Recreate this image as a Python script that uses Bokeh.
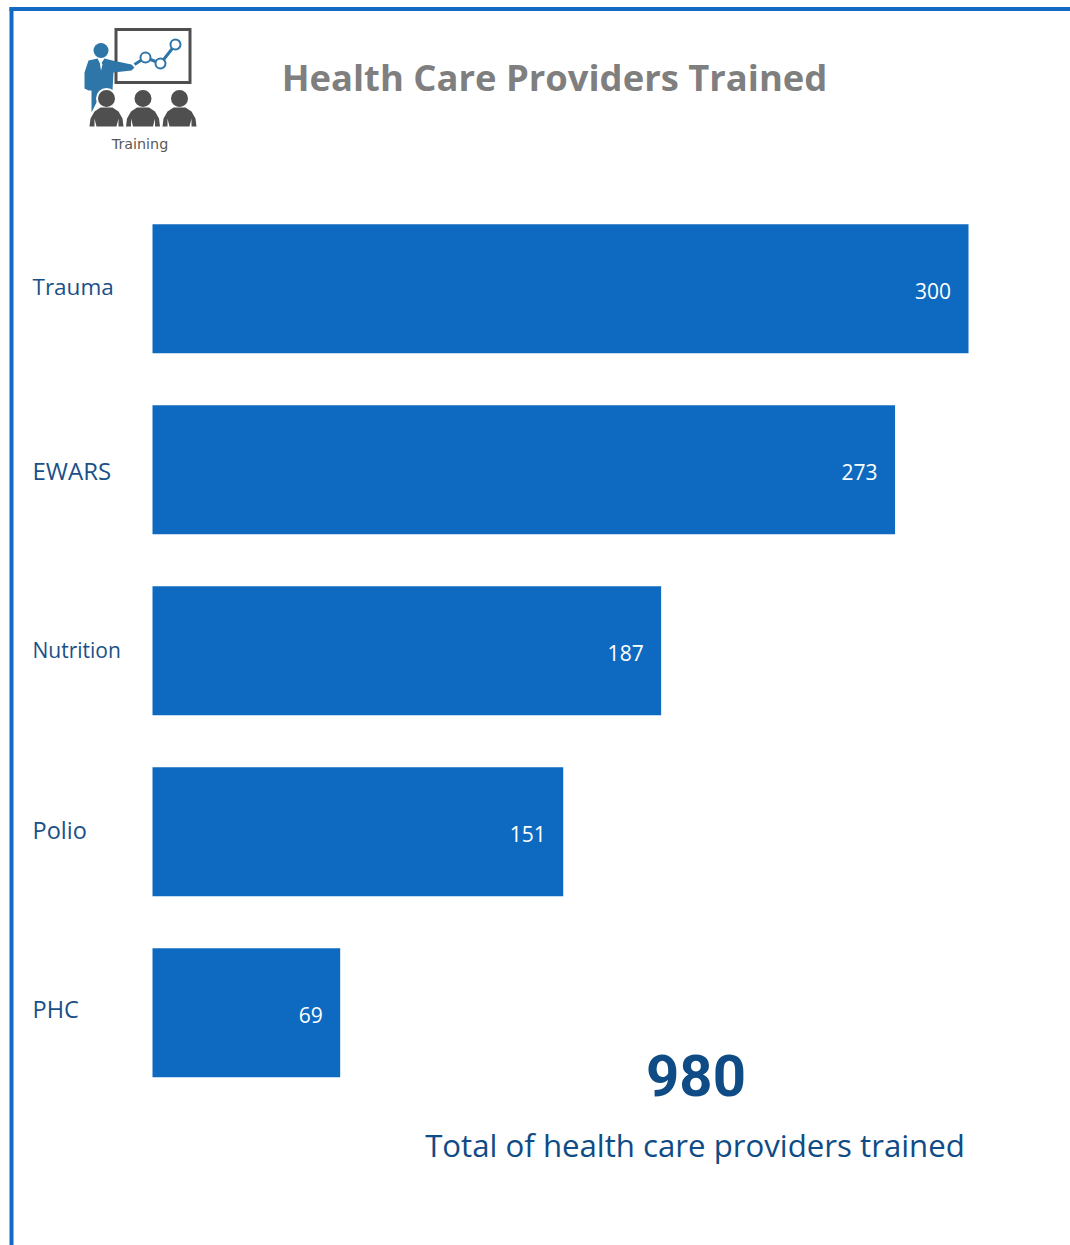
from bokeh.plotting import figure
from bokeh.models import Range1d, ColumnDataSource
from bokeh.core.properties import value
from bokeh.embed import file_html
from bokeh.resources import INLINE

categories = ["Trauma", "EWARS", "Nutrition", "Polio", "PHC"]
values = [300, 273, 187, 151, 69]
total = 980
title = "Health Care Providers Trained"
total_caption = "Total of health care providers trained"

W, H = 1070, 1245
PX_PER_UNIT = 2.72
PX_PER_ROW = 181
ZERO_X = 152
FIRST_ROW_Y = 288.2
BAR = "#0E6AC1"
DARK = "#0F4B85"
LABEL = "#1A5088"
BORDER = "#1469C4"
FONT = "Open Sans"
label_sizes = ["22.5px", "24px", "21px", "23.5px", "23.5px"]
label_shift = [-2, 0.5, -1, -2, -4]

x_range = Range1d(-ZERO_X / PX_PER_UNIT, (W - ZERO_X) / PX_PER_UNIT)
y_range = Range1d((H - FIRST_ROW_Y) / PX_PER_ROW, -FIRST_ROW_Y / PX_PER_ROW)

p = figure(width=W, height=H, x_range=x_range, y_range=y_range,
           output_backend="svg", toolbar_location=None, min_border=0,
           outline_line_color=None, background_fill_color="white")
p.axis.visible = False
p.grid.visible = False
p.extra_x_ranges["px"] = Range1d(0, W)
p.extra_y_ranges["px"] = Range1d(H, 0)
PX = dict(x_range_name="px", y_range_name="px")

rows = list(range(len(categories)))
src = ColumnDataSource(dict(y=rows, v=values, zero=[0] * len(values), cat=categories,
                            label=[str(v) for v in values], size=label_sizes, dy=label_shift))
p.hbar(y="y", left="zero", right="v", height=129 / PX_PER_ROW, source=src,
       fill_color=BAR, line_color=None)
p.text(x="v", y="y", text="label", source=src, x_offset=-17.5, y_offset=2.4,
       text_align="right", text_baseline="middle", text_color="white",
       text_font=value(FONT), text_font_size="21px")
p.text(x="zero", y="y", text="cat", source=src, x_offset=-120, y_offset="dy",
       text_align="left", text_baseline="middle", text_color=LABEL,
       text_font=value(FONT), text_font_size="size")

# page frame
p.quad(left=[9], right=[13], top=[1245], bottom=[6.5], fill_color=BORDER, line_color=None, **PX)
p.quad(left=[9], right=[1070], top=[10.5], bottom=[6.5], fill_color=BORDER, line_color=None, **PX)

# titles
p.text(x=[554], y=[76], text=[title], text_align="center", text_baseline="middle",
       text_color="#7F7F7F", text_font=value(FONT), text_font_style="bold",
       text_font_size="36.4px", **PX)
p.text(x=[695.5], y=[1075], text=[str(total)], text_align="center", text_baseline="middle",
       text_color=DARK, text_font=value("Roboto"), text_font_style="bold",
       text_font_size="58px", **PX)
p.text(x=[694.5], y=[1144], text=[total_caption], text_align="center", text_baseline="middle",
       text_color=DARK, text_font=value(FONT), text_font_size="31.2px", **PX)

# training icon
GREY = "#4F4F4F"
BLUE = "#2F76A8"
p.quad(left=[115.5], right=[189.5], top=[82], bottom=[29], fill_color="white",
       line_color=GREY, line_width=3, line_join="miter", **PX)
p.line(x=[134, 145, 160, 175], y=[64, 57, 63, 44], line_color=BLUE, line_width=3, **PX)
p.scatter(x=[145, 160, 175], y=[57, 63, 44], size=[10, 10, 10], marker="circle",
          fill_color="white", line_color=BLUE, line_width=2, **PX)
p.patch(x=[88, 97, 100, 104, 112, 131, 134, 131, 113, 112, 97, 91, 91, 88, 84, 84],
        y=[60, 58, 64, 58, 60, 64, 67, 70, 72, 90, 100, 112, 90, 90, 88, 72],
        fill_color=BLUE, line_color=None, **PX)
p.patch(x=[99, 101.5, 99.5, 100.5, 102], y=[59, 59, 64, 70, 64], fill_color="white", line_color=None, **PX)
p.scatter(x=[100.5], y=[50], size=[15], marker="circle", fill_color=BLUE, line_color=None, **PX)
for cx in (106, 142.5, 179):
    p.scatter(x=[cx], y=[98], size=[19], marker="circle", fill_color=GREY,
              line_color="white", line_width=2, **PX)
    p.patch(x=[cx - 17, cx - 16, cx - 12, cx - 6, cx + 6, cx + 12, cx + 16, cx + 17, cx + 12, cx + 12, cx + 10, cx - 10, cx - 12, cx - 12],
            y=[126, 118, 111, 107, 107, 111, 118, 126, 126, 118, 126, 126, 118, 126],
            fill_color=GREY, line_color=None, **PX)
p.text(x=[139.5], y=[143], text=["Training"], text_align="center", text_baseline="middle",
       text_color="#595959", text_font=value("DejaVu Sans"), text_font_size="14.3px", **PX)

open("out.html", "w").write(file_html(p, INLINE))
